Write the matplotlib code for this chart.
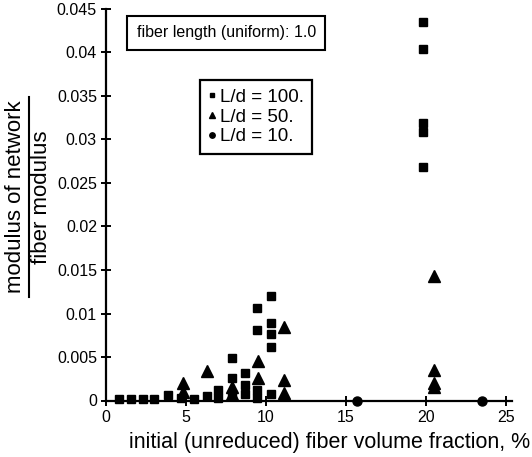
import numpy as np
import matplotlib
matplotlib.use('Agg')
import matplotlib.pyplot as plt
from matplotlib.lines import Line2D
from matplotlib.ticker import FuncFormatter

plt.rcParams['font.family'] = ['Liberation Sans', 'DejaVu Sans']

# L/d = 100 (squares)
x_ld100 = [0.8, 1.55, 2.3, 3.0, 3.85, 4.66, 5.5, 6.3, 7.0, 7.0,
           7.9, 7.9, 7.9, 8.7, 8.7, 8.7, 9.46, 9.46, 9.46, 9.46,
           10.3, 10.3, 10.3, 10.3, 10.3,
           19.8, 19.8, 19.8, 19.8, 19.8]
y_ld100 = [0.0002, 0.0002, 0.0002, 0.0002, 0.0006, 0.0003, 0.0002, 0.0005, 0.0012, 0.0003,
           0.0049, 0.0026, 0.0007, 0.0032, 0.0018, 0.0007, 0.0106, 0.0081, 0.0012, 0.0003,
           0.012, 0.0089, 0.0076, 0.0061, 0.0008,
           0.0435, 0.0404, 0.0319, 0.0309, 0.0268]

# L/d = 50 (triangles)
x_ld50 = [4.83, 4.83, 6.3, 7.9, 7.9, 9.5, 9.5, 11.1, 11.1, 11.1, 20.5, 20.5, 20.5, 20.5]
y_ld50 = [0.002, 0.001, 0.0034, 0.0015, 0.0008, 0.0045, 0.0026, 0.0085, 0.0024, 0.0009,
          0.0143, 0.0035, 0.002, 0.0015]

# L/d = 10 (circles)
x_ld10 = [15.7, 23.5]
y_ld10 = [0.0, 0.0]

xticks = [0, 5, 10, 15, 20, 25]
yticks = [0, 0.005, 0.01, 0.015, 0.02, 0.025, 0.03, 0.035, 0.04, 0.045]

fig = plt.figure(figsize=(5.32, 4.57), dpi=100)
ax = fig.add_axes([106/532, 1 - 400.5/457, 406.4/532, 391.5/457])

ax.plot(x_ld100, y_ld100, 's', color='black', markersize=6, clip_on=False, label='L/d = 100.')
ax.plot(x_ld50, y_ld50, '^', color='black', markersize=8, clip_on=False, label='L/d = 50.')
ax.plot(x_ld10, y_ld10, 'o', color='black', markersize=6.5, clip_on=False, label='L/d = 10.')

ax.set_xlim(0, 25.4)
ax.set_ylim(0, 0.045)
ax.set_xticks(xticks)
ax.set_yticks(yticks)
ax.yaxis.set_major_formatter(FuncFormatter(lambda v, p: '%g' % round(v, 4)))

for s in ['top', 'right']:
    ax.spines[s].set_visible(False)
for s in ['left', 'bottom']:
    ax.spines[s].set_linewidth(1.6)
ax.tick_params(direction='inout', length=7, width=1.4, labelsize=11.5, pad=3)

ax.set_xlabel('initial (unreduced) fiber volume fraction, %', fontsize=15.5, labelpad=1)
ax.xaxis.set_label_coords(0.55, -0.08)

# y label as a fraction
fig.text(16/532, 1 - 197/457, 'modulus of network', rotation=90, fontsize=16,
         ha='center', va='center')
fig.text(41.5/532, 1 - 197/457, 'fiber modulus', rotation=90, fontsize=16,
         ha='center', va='center')
fig.add_artist(Line2D([28.5/532, 28.5/532], [1 - 97/457, 1 - 297/457], color='black',
                      linewidth=1.5, transform=fig.transFigure))

ax.text(0.2956, 0.9387, 'fiber length (uniform): 1.0', transform=ax.transAxes,
        fontsize=11.5, ha='center', va='center',
        bbox=dict(boxstyle='square,pad=0.6', fc='white', ec='black', lw=1.5))

leg = ax.legend(loc='upper left', bbox_to_anchor=(0.2315, 0.8186), fontsize=13.5,
                frameon=True, fancybox=False, edgecolor='black', framealpha=1,
                handlelength=0.4, handletextpad=0.2, markerscale=0.6,
                labelspacing=0.15, borderpad=0.45, borderaxespad=0)
leg.get_frame().set_linewidth(1.6)

fig.savefig('out.png', dpi=100)
